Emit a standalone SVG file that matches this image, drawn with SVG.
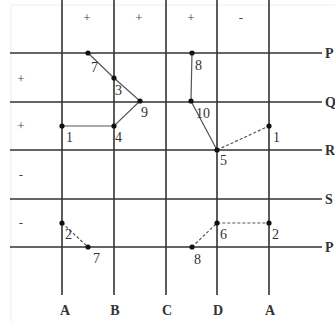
<svg xmlns="http://www.w3.org/2000/svg" width="335" height="322" viewBox="0 0 335 322">
<style>
.grid{stroke:#333;stroke-width:1.6;fill:none}
.conn{stroke:#555;stroke-width:1.2;fill:none}
.dash{stroke-dasharray:3,2}
.dot{fill:#111}
.lbl{font-family:"Liberation Serif","Times New Roman",serif;font-size:14px;fill:#333}
.ax{font-family:"Liberation Serif","Times New Roman",serif;font-size:14px;font-weight:bold;fill:#333}
.sg{font-family:"Liberation Serif","Times New Roman",serif;font-size:13px;fill:#444;text-anchor:middle}
</style>
<rect width="335" height="322" fill="#fff"/>
<path d="M11 5V322M11 5H335" stroke="#eee" stroke-width="1" fill="none"/>
<g id="grid">
<path class="grid" d="M62 0V295M114 0V295M166 0V295M217 0V295M269 0V295"/>
<path class="grid" d="M10 53H322M10 102H322M10 150H322M10 199H322M10 247H322"/>
</g>
<g id="axis-labels">
<text class="ax" x="325" y="58">P</text>
<text class="ax" x="325" y="107">Q</text>
<text class="ax" x="325" y="155">R</text>
<text class="ax" x="325" y="204">S</text>
<text class="ax" x="325" y="252">P</text>
<text class="ax" x="65" y="315" text-anchor="middle">A</text>
<text class="ax" x="115" y="315" text-anchor="middle">B</text>
<text class="ax" x="167" y="315" text-anchor="middle">C</text>
<text class="ax" x="218" y="315" text-anchor="middle">D</text>
<text class="ax" x="270" y="315" text-anchor="middle">A</text>
</g>
<g id="signs">
<text class="sg" x="87" y="22">+</text>
<text class="sg" x="139" y="22">+</text>
<text class="sg" x="191" y="22">+</text>
<text class="sg" x="241" y="22">-</text>
<text class="sg" x="21" y="83">+</text>
<text class="sg" x="21" y="130">+</text>
<text class="sg" x="21" y="179">-</text>
<text class="sg" x="21" y="227">-</text>
</g>
<g id="connectors">
<polyline class="conn" points="88,53 114,78 140,101 114,126 62,126"/>
<polyline class="conn" points="192,53 191,101 217,150"/>
<line class="conn dash" x1="217" y1="150" x2="269" y2="126"/>
<line class="conn dash" x1="62" y1="223" x2="88" y2="247"/>
<polyline class="conn dash" points="192,247 217,223 269,223"/>
</g>
<g id="n7a"><circle class="dot" cx="88" cy="53" r="2.6"/><text class="lbl" x="91" y="72">7</text></g>
<g id="n3"><circle class="dot" cx="114" cy="78" r="2.6"/><text class="lbl" x="115" y="95">3</text></g>
<g id="n9"><circle class="dot" cx="140" cy="101" r="2.6"/><text class="lbl" x="141" y="117">9</text></g>
<g id="n4"><circle class="dot" cx="114" cy="126" r="2.6"/><text class="lbl" x="115" y="142">4</text></g>
<g id="n1a"><circle class="dot" cx="62" cy="126" r="2.6"/><text class="lbl" x="66" y="142">1</text></g>
<g id="n8a"><circle class="dot" cx="192" cy="53" r="2.6"/><text class="lbl" x="195" y="70">8</text></g>
<g id="n10"><circle class="dot" cx="191" cy="101" r="2.6"/><text class="lbl" x="196" y="118">10</text></g>
<g id="n5"><circle class="dot" cx="217" cy="150" r="2.6"/><text class="lbl" x="220" y="165">5</text></g>
<g id="n1b"><circle class="dot" cx="269" cy="126" r="2.6"/><text class="lbl" x="273" y="142">1</text></g>
<g id="n2a"><circle class="dot" cx="62" cy="223" r="2.6"/><text class="lbl" x="65" y="239">2</text></g>
<g id="n7b"><circle class="dot" cx="88" cy="247" r="2.6"/><text class="lbl" x="93" y="263">7</text></g>
<g id="n6"><circle class="dot" cx="217" cy="223" r="2.6"/><text class="lbl" x="220" y="239">6</text></g>
<g id="n2b"><circle class="dot" cx="269" cy="223" r="2.6"/><text class="lbl" x="272" y="239">2</text></g>
<g id="n8b"><circle class="dot" cx="192" cy="247" r="2.6"/><text class="lbl" x="194" y="264">8</text></g>
</svg>
